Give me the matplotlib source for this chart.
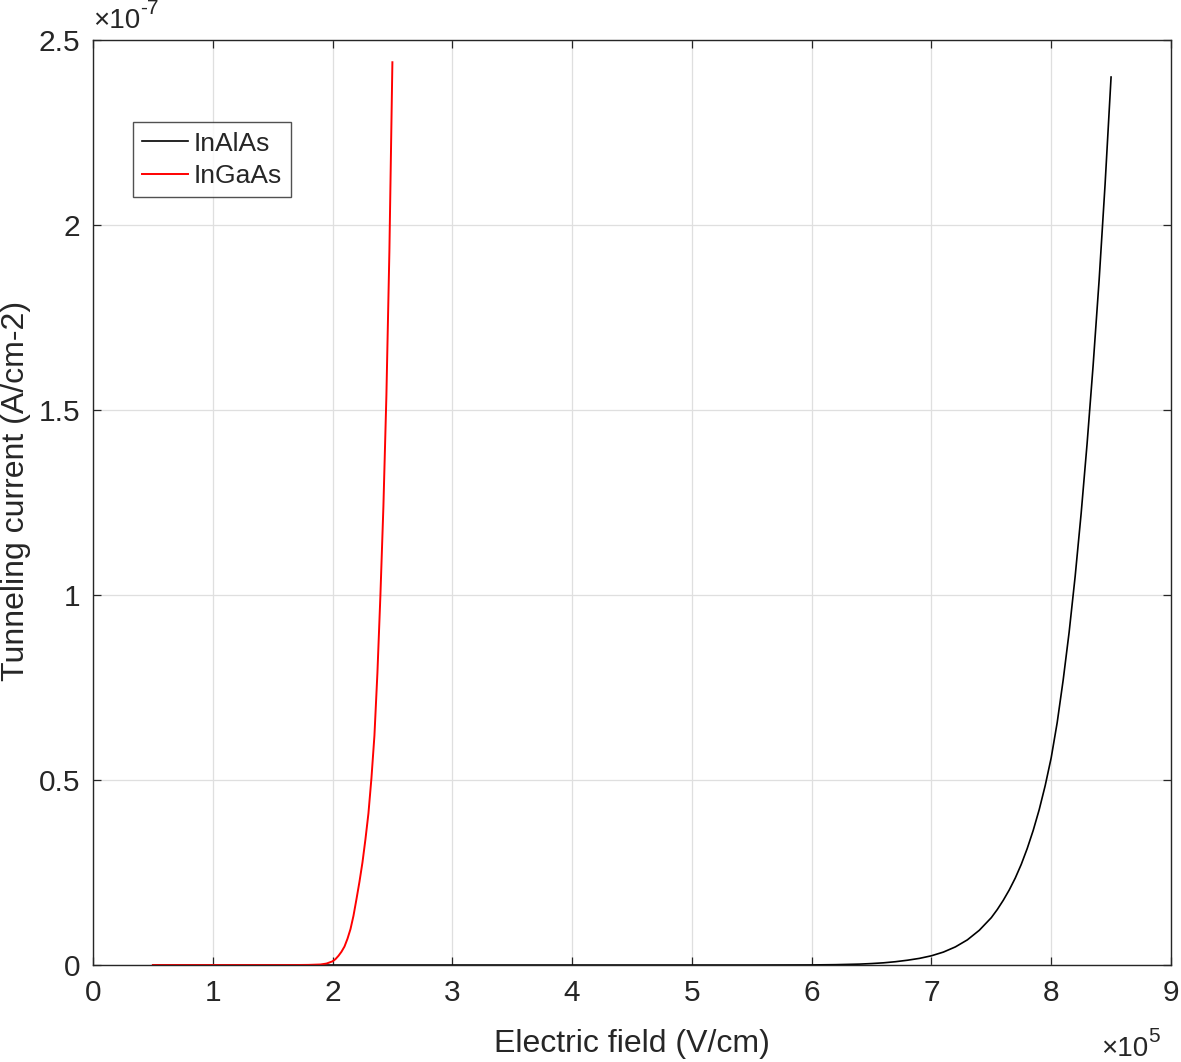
"""Tunneling current vs electric field, InAlAs vs InGaAs"""
import matplotlib
matplotlib.use("Agg")
import matplotlib.pyplot as plt

plt.rcParams["font.family"] = ["Liberation Sans", "DejaVu Sans"]

# electric field in units of 1e5 V/cm, current in units of 1e-7 A/cm-2
field_ingaas = [0.5, 1.0, 1.5, 1.7, 1.8, 1.9, 1.95, 2.0, 2.025, 2.05, 2.075,
                2.1, 2.125, 2.15, 2.175, 2.2, 2.225, 2.25, 2.275, 2.3, 2.325,
                2.35, 2.375, 2.4, 2.425, 2.45, 2.475, 2.5]
current_ingaas = [0.0, 0.0, 0.0, 0.0001, 0.0004, 0.0015, 0.004, 0.01, 0.016,
                  0.025, 0.036, 0.05, 0.071, 0.097, 0.133, 0.178, 0.225,
                  0.277, 0.34, 0.41, 0.505, 0.62, 0.79, 1.0, 1.24, 1.54,
                  1.93, 2.44]

field_inalas = [0.5, 2.0, 4.0, 5.5, 6.0, 6.2, 6.4, 6.5, 6.6, 6.7, 6.8, 6.9,
                7.0, 7.1, 7.2, 7.3, 7.4, 7.5, 7.55, 7.6, 7.65, 7.7, 7.75,
                7.8, 7.85, 7.9, 7.95, 8.0, 8.05, 8.1, 8.15, 8.2, 8.25, 8.3,
                8.35, 8.4, 8.45, 8.5]
current_inalas = [0.0, 0.0, 0.0, 0.0, 0.0003, 0.001, 0.0025, 0.004, 0.006,
                  0.009, 0.013, 0.018, 0.025, 0.035, 0.049, 0.068, 0.094,
                  0.128, 0.150, 0.175, 0.203, 0.235, 0.272, 0.315, 0.364,
                  0.42, 0.485, 0.56, 0.655, 0.77, 0.90, 1.05, 1.22, 1.41,
                  1.62, 1.85, 2.11, 2.40]

xticks = list(range(0, 10))
yticks = [0, 0.5, 1, 1.5, 2, 2.5]
ytick_labels = ["0", "0.5", "1", "1.5", "2", "2.5"]
ink = "#262626"

fig = plt.figure(figsize=(11.81, 10.62), dpi=100)
ax = fig.add_axes([0.0787, 0.0913, 0.9128, 0.871])

ax.plot(field_inalas, current_inalas, color="black", lw=1.2, label="InAlAs")
ax.plot(field_ingaas, current_ingaas, color="red", lw=1.4, label="InGaAs")

ax.set_xlim(0, 9)
ax.set_ylim(0, 2.5)
ax.set_xticks(xticks)
ax.set_yticks(yticks)
ax.set_xticklabels([str(t) for t in xticks])
ax.set_yticklabels(ytick_labels)
ax.grid(True, color="#dfdfdf", lw=0.9)
ax.set_axisbelow(True)
ax.tick_params(direction="in", length=6, width=0.9, colors=ink,
               labelsize=21.5, top=True, right=True)
ax.tick_params(axis="x", pad=10)
ax.tick_params(axis="y", pad=9)
for s in ax.spines.values():
    s.set_color(ink)
    s.set_linewidth(1.0)

ax.set_xlabel("Electric field (V/cm)", fontsize=23, color=ink, labelpad=16)
ax.set_ylabel("Tunneling current (A/cm-2)", fontsize=23, color=ink)
ax.yaxis.set_label_coords(-0.057, 0.513)

# exponent labels, MATLAB style (hyphen minus)
t1 = ax.text(0.0, 1.006, "\u00d710", transform=ax.transAxes,
             fontsize=20, color=ink, ha="left", va="bottom")
ax.annotate("-7", xy=(1, 0.62), xycoords=t1, fontsize=15, color=ink,
            ha="left", va="bottom")
t2 = ax.text(0.935, -0.077, "\u00d710", transform=ax.transAxes,
             fontsize=20, color=ink, ha="left", va="top")
ax.annotate("5", xy=(1, 0.62), xycoords=t2, fontsize=15, color=ink,
            ha="left", va="bottom")

leg = ax.legend(loc="upper left", bbox_to_anchor=(0.037, 0.911), fontsize=19,
                frameon=True, fancybox=False, handlelength=1.75,
                handletextpad=0.2, borderpad=0.35, labelspacing=0.32,
                borderaxespad=0)
leg.get_frame().set_edgecolor(ink)
leg.get_frame().set_linewidth(1.0)
for t in leg.get_texts():
    t.set_color(ink)

fig.savefig("out.png", dpi=100)
